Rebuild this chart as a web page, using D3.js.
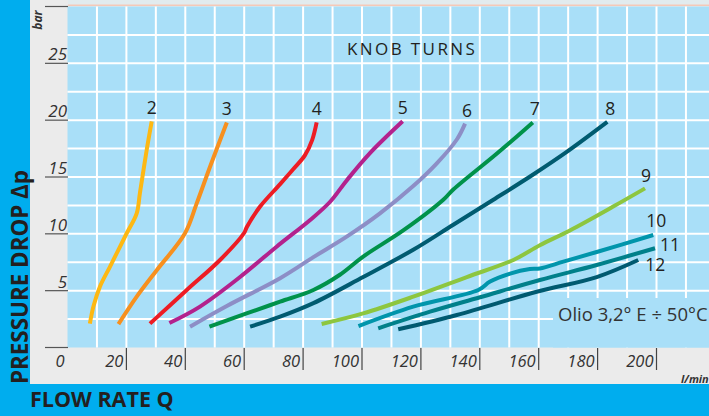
<!DOCTYPE html>
<html><head><meta charset="utf-8">
<script src="https://cdn.jsdelivr.net/npm/d3@7"></script>
<style>
html,body{margin:0;padding:0;background:#EBEBEB;}
svg{display:block;}
text{font-family:"Open Sans","Liberation Sans",sans-serif;}
</style></head>
<body>
<svg id="c" width="709" height="416"></svg>
<script>
// ---- data ----
const knobTurns = ["2","3","4","5","6","7","8","9","10","11","12"];
const curve2  = [[7.6,2.1],[8.8,3.6],[11.0,5.35],[14.4,7.1],[20.1,10.05],[23.5,11.8],[24.6,13.6],[26.9,17.4],[28.6,19.9]];
const curve3  = [[17.3,2.05],[23.5,4.47],[30.3,6.8],[39.9,10.05],[43.9,12.7],[48.4,15.9],[54.1,19.8]];
const curve4  = [[28.0,2.1],[40.5,5.06],[51.8,7.7],[59.9,10.05],[60.9,10.6],[65.4,12.4],[72.2,14.37],[76.7,15.7],[80.6,16.9],[83.1,18.27],[84.6,19.8]];
const curve5  = [[34.6,2.15],[45.0,3.6],[58.6,6.2],[71.0,8.87],[82.3,11.2],[89.1,12.8],[94.8,14.7],[102.7,17.1],[113.8,19.9]];
const curve6  = [[41.6,1.83],[54.1,3.65],[72.2,6.1],[83.5,7.95],[94.8,9.75],[106.1,11.8],[117.4,14.2],[125.4,16.2],[132.2,18.3],[135.0,19.7]];
const curve7  = [[48.2,1.83],[60.8,3.0],[72.2,4.03],[83.5,5.06],[92.5,6.4],[100.4,8.0],[114.0,10.3],[127.6,13.0],[131.0,13.9],[144.6,16.8],[151.4,18.3],[158.0,19.8]];
const curve8  = [[62.0,1.83],[72.2,2.71],[83.5,3.9],[100.4,6.2],[117.4,8.6],[131.0,10.8],[144.6,13.0],[158.0,15.2],[170.0,17.3],[183.3,19.85]];
const curve9  = [[86.3,2.07],[100.4,3.0],[117.4,4.47],[135.6,6.2],[151.4,7.7],[160.4,9.0],[170.6,10.3],[185.3,12.4],[196.1,14.0]];
const curve10 = [[98.8,1.89],[117.4,3.6],[139.5,5.06],[143.5,5.8],[150.3,6.5],[157.0,6.9],[160.4,6.95],[168.4,7.55],[179.7,8.4],[198.9,9.9]];
const curve11 = [[105.5,1.69],[123.1,3.15],[140.1,4.42],[160.4,5.94],[179.7,7.26],[199.5,8.73]];
const curve12 = [[112.3,1.6],[132.2,2.86],[159.3,4.9],[179.7,6.2],[193.8,7.7]];
const curves = [curve2,curve3,curve4,curve5,curve6,curve7,curve8,curve9,curve10,curve11,curve12];
const xTickValues = [0,20,40,60,80,100,120,140,160,180,200];
const yTickValues = [5,10,15,20,25];
const yRuleValues = [0,5,10,15,20,25,30];

// ---- styles ----
const colors = ["#FDB813","#F7901E","#ED1C24","#B3228D","#8D8EC6","#00924A","#005B70","#8DC63F","#0095AB","#00808A","#005A70"];
const labelOffset = [[0,-7],[0,-7],[0,-7],[0,-7],[2,-7],[2,-7],[3,-7],[1,-6],[3,-8],[15,3],[17,11]];

const svg = d3.select("#c");
const W = 709, H = 416;
const pL = 67.5, pR = 709, pT = 6.5, pB = 347.5;

const x = d3.scaleLinear().domain([0,200]).range([67.5,656.5]);
const y = d3.scaleLinear().domain([0,30]).range([347.5,6.5]);

// background panels
svg.append("rect").attr("x",0).attr("y",0).attr("width",W).attr("height",H).attr("fill","#EBEBEB");
svg.append("rect").attr("x",68).attr("y",0).attr("width",W-68).attr("height",6).attr("fill","#E2EBEE");
svg.append("line").attr("x1",68).attr("x2",W).attr("y1",5.2).attr("y2",5.2).attr("stroke","#F5C9B8").attr("stroke-width",1.4);
svg.append("rect").attr("x",pL).attr("y",pT).attr("width",pR-pL).attr("height",pB-pT).attr("fill","#A9DFF8");

// grid
const gx = d3.range(10,220,10);
svg.append("g").selectAll("line").data(gx).join("line")
  .attr("x1",d=>x(d)).attr("x2",d=>x(d)).attr("y1",pT).attr("y2",pB)
  .attr("stroke","#fff").attr("stroke-width",2);
const gy = d3.range(2.5,30,2.5);
svg.append("g").selectAll("line").data(gy).join("line")
  .attr("x1",pL).attr("x2",pR).attr("y1",d=>y(d)).attr("y2",d=>y(d))
  .attr("stroke","#fff").attr("stroke-width",2);

// legend box (hides grid)
svg.append("rect").attr("x",553).attr("y",298).attr("width",W-553).attr("height",pB-298).attr("fill","#A9DFF8");
svg.append("text").attr("x",558).attr("y",321).attr("font-size",18.5).attr("fill","#333")
  .text("Olio 3,2° E ÷ 50°C");

// y axis rules & labels
svg.append("g").selectAll("line").data(yRuleValues).join("line")
  .attr("x1",45).attr("x2",68).attr("y1",d=>y(d)).attr("y2",d=>y(d))
  .attr("stroke","#555").attr("stroke-width",1.2);
svg.append("g").selectAll("text").data(yTickValues).join("text")
  .attr("x",67).attr("y",d=>y(d)-3).attr("text-anchor","end")
  .attr("font-size",17).attr("font-style","italic").attr("fill","#333").text(d=>d);

// x axis ticks & labels
svg.append("g").selectAll("line").data(xTickValues.filter(d=>d>0)).join("line")
  .attr("x1",d=>x(d)).attr("x2",d=>x(d)).attr("y1",348).attr("y2",370)
  .attr("stroke","#444").attr("stroke-width",1.2);
svg.append("g").selectAll("text").data(xTickValues).join("text")
  .attr("x",d=>x(d)-3).attr("y",367).attr("text-anchor","end")
  .attr("font-size",16.5).attr("font-style","italic").attr("fill","#333").text(d=>d);

// units
svg.append("text").attr("transform","translate(42,20) rotate(-90)").attr("text-anchor","middle")
  .attr("font-size",12).attr("font-weight","bold").attr("font-style","italic").attr("fill","#333").text("bar");
svg.append("text").attr("x",681).attr("y",383).attr("font-size",11)
  .attr("font-weight","bold").attr("font-style","italic").attr("fill","#333").text("l/min");

// title in plot
svg.append("text").attr("x",347).attr("y",55).attr("font-size",17).attr("letter-spacing",2.4)
  .attr("fill","#231F20").text("KNOB TURNS");

// curves
const line = d3.line().x(d=>x(d[0])).y(d=>y(d[1])).curve(d3.curveCatmullRom.alpha(0.5));
svg.append("g").selectAll("path").data(curves).join("path")
  .attr("d",line).attr("fill","none").attr("stroke",(d,i)=>colors[i])
  .attr("stroke-width",4).attr("stroke-linecap","butt").attr("stroke-linejoin","round");

// curve labels
svg.append("g").selectAll("text").data(curves).join("text")
  .attr("x",(d,i)=>x(d[d.length-1][0])+labelOffset[i][0])
  .attr("y",(d,i)=>y(d[d.length-1][1])+labelOffset[i][1])
  .attr("text-anchor","middle").attr("font-size",17.5).attr("fill","#231F20")
  .text((d,i)=>knobTurns[i]);

// blue bands
svg.append("rect").attr("x",0).attr("y",0).attr("width",30).attr("height",H).attr("fill","#00ADEE");
svg.append("rect").attr("x",0).attr("y",384).attr("width",W).attr("height",H-384).attr("fill","#00ADEE");
svg.append("text").attr("x",30).attr("y",407).attr("font-family","Liberation Sans, Arial, sans-serif")
  .attr("font-size",21.5).attr("font-weight","bold").attr("fill","#231F20").text("FLOW RATE Q");
svg.append("text").attr("transform","translate(28,384) rotate(-90)")
  .attr("font-family","Liberation Sans, Arial, sans-serif")
  .attr("font-size",24).attr("font-weight","bold").attr("fill","#231F20")
  .attr("textLength",214).attr("lengthAdjust","spacingAndGlyphs").text("PRESSURE DROP Δp");
</script>
</body></html>
